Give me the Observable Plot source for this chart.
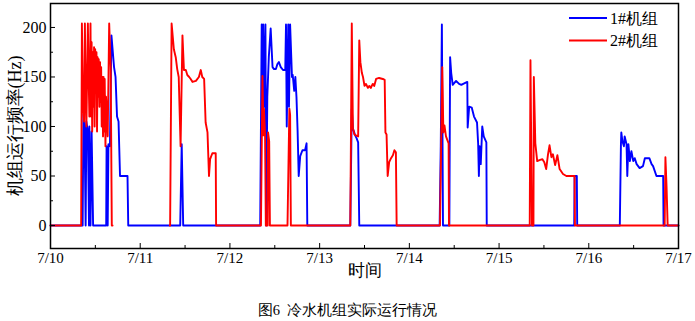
<!DOCTYPE html>
<html>
<head>
<meta charset="utf-8">
<script src="https://cdn.jsdelivr.net/npm/d3@7"></script>
<script src="https://cdn.jsdelivr.net/npm/@observablehq/plot@0.6"></script>
<style>
  html, body { margin: 0; padding: 0; background: #fff; }
  #wrap { width: 695px; height: 321px; position: relative; }
  #caption { width: 695px; text-align: center; font-family: "Liberation Serif", "Times New Roman", serif; font-size: 14.5px; line-height: 21px; color: #000; white-space: pre; }
  #chart svg text { font-family: "Liberation Serif", "Times New Roman", serif; }
</style>
</head>
<body>
<div id="wrap"><div id="chart"></div><div id="caption"></div></div>
<script>
// ---- data (hours since 7/10 00:00, frequency Hz) ----
const seriesNames = ["1#机组", "2#机组"];
const seriesColors = ["#0000ff", "#ff0000"];
const dayLabels = ["7/10", "7/11", "7/12", "7/13", "7/14", "7/15", "7/16", "7/17"];
const yTickValues = [0, 50, 100, 150, 200];
const yMinorValues = [25, 75, 125, 175];
const yTitle = "机组运行频率(Hz)";
const xTitle = "时间";
const captionText = "图6  冷水机组实际运行情况";

const unit1Hours = [0, 8.6, 8.8, 9.1, 9.4, 9.6, 10.0, 10.3, 10.4, 10.7, 11.0, 11.4, 14.9, 15.0, 15.3, 15.5, 15.9, 16.3, 17.0, 17.4, 17.8, 18.2, 18.6, 20.6, 20.8,
  34.7, 35.1, 35.5,
  56.1, 56.5, 56.7, 56.9, 57.2, 57.5, 57.7, 58.0, 58.4, 58.9, 59.4, 59.8, 60.3, 60.7, 61.1, 61.6, 62.2, 62.8, 63.0, 63.2, 63.6, 63.8, 64.1, 64.6, 64.8, 65.2, 65.5, 65.8, 66.1, 66.4, 66.8, 67.4, 68.1, 68.5, 68.7,
  80.2, 80.6, 80.9, 81.5, 81.9, 82.3, 82.6,
  104.1, 104.4, 104.7, 105.0, 106.7, 106.9, 107.2, 107.6, 108.5, 109.3, 109.9, 110.4, 111.5, 111.6, 112.0, 112.7, 113.3, 114.1, 114.4, 114.6, 114.8, 115.1, 115.5, 115.9, 116.6, 116.7,
  140.1, 140.2, 140.8, 140.9,
  152.3, 152.6, 152.7, 153.0, 153.4, 153.6, 154.1, 154.3, 154.6, 155.0, 155.4, 155.9, 156.3, 156.8, 157.6, 158.5, 159.0, 160.2, 160.8, 161.2, 162.1, 163.9, 164.0, 168];
const unit1Freq = [0, 0, 112, 100, 0, 105, 95, 0, 100, 0, 95, 0, 0, 80, 0, 82, 80, 192, 160, 150, 110, 105, 50, 50, 0,
  0, 82, 0,
  0, 203, 100, 203, 120, 203, 0, 130, 170, 199, 160, 158, 158, 163, 165, 160, 157, 157, 203, 100, 203, 120, 203, 150, 152, 136, 150, 130, 96, 50, 70, 76, 76, 83, 0,
  0, 118, 98, 91, 88, 84, 0,
  0, 80, 203, 0, 0, 170, 154, 142, 146, 143, 142, 143, 145, 99, 120, 119, 110, 104, 83, 50, 80, 62, 100, 90, 84, 0,
  0, 50, 50, 0,
  0, 82, 94, 85, 80, 90, 82, 50, 82, 65, 75, 65, 68, 62, 58, 60, 68, 68, 62, 60, 50, 50, 0, 0];

const unit2Hours = [0, 8.2, 8.4, 8.7, 9.0, 9.2, 9.4, 9.6, 10.0, 10.2, 10.4, 10.7, 10.85, 11.0, 11.15, 11.3, 11.5, 11.65, 11.8, 11.95, 12.1, 12.3, 12.45, 12.6, 12.75, 12.9, 13.1, 13.25, 13.4, 13.55, 13.7, 13.9, 14.05, 14.2, 14.35, 14.5, 14.7, 14.85, 15.0, 15.3, 15.7, 16.1, 16.4, 16.6,
  24,
  31.9, 32.0, 32.4, 33.0, 33.5, 33.9, 34.3, 34.8, 35.3, 35.7, 36.2, 36.6, 37.1, 37.5, 38.0, 38.9, 39.7, 40.2, 40.6, 41.1, 41.5, 42.0, 42.4, 42.7, 43.3, 44.2, 44.3,
  56.3, 56.7, 57.0, 57.1, 57.4, 57.6, 58.1, 58.2, 58.5, 58.7,
  63.4, 63.9, 64.1, 64.3,
  80.2, 80.6, 80.9, 81.3, 81.7, 82.3, 82.6, 82.9, 83.3, 83.6, 84.0, 84.4, 84.9, 85.3, 85.7, 86.2, 86.6, 87.1, 87.9, 88.9, 89.4, 89.6, 89.9, 90.2, 90.6, 91.1, 91.6, 92.0, 92.4, 92.6,
  104.2, 104.8, 105.1, 105.4, 105.8, 106.5, 106.6,
  128.2, 128.4, 128.8, 129.2, 129.3, 129.7, 130.2, 130.8, 131.6, 132.1, 132.6, 133.1, 133.5, 134.0, 134.4, 135.0, 135.6, 136.2, 137.1, 138.0, 140.2, 140.3,
  164.3, 164.5, 164.8, 165.1, 168];
const unit2Freq = [0, 0, 204, 120, 105, 204, 140, 100, 204, 150, 110, 204, 110, 185, 95, 175, 120, 180, 100, 178, 160, 175, 95, 170, 130, 168, 120, 165, 125, 160, 100, 150, 90, 150, 95, 148, 80, 130, 120, 90, 204, 160, 0, 0,
  null,
  0, 0, 204, 178, 170, 158, 150, 80, 192, 157, 157, 152, 150, 148, 145, 146, 150, 157, 150, 148, 104, 94, 50, 67, 73, 73, 0,
  0, 151, 91, 118, 91, 0, 0, 94, 85, 0,
  0, 118, 112, 0,
  0, 204, 98, 92, 91, 90, 187, 165, 154, 150, 141, 143, 139, 141, 139, 143, 141, 148, 149, 148, 147, 94, 92, 50, 64, 68, 71, 76, 74, 0,
  0, 160, 94, 101, 90, 83, 0,
  0, 167, 0, 0, 150, 83, 65, 66, 67, 64, 57, 72, 81, 69, 72, 61, 71, 57, 52, 50, 50, 0,
  0, 69, 40, 0, 0];

// ---- build ----
const base = Date.UTC(2019, 6, 10);
const toDate = h => new Date(base + h * 3600e3);
const unit1 = unit1Hours.map((h, i) => ({t: toDate(h), v: unit1Freq[i]}));
const unit2 = unit2Hours.map((h, i) => ({t: toDate(h), v: unit2Freq[i]}));
const dayTicks = dayLabels.map((_, i) => toDate(24 * i));
const halfTicks = dayLabels.slice(0, -1).map((_, i) => toDate(24 * i + 12));
const labelOf = new Map(dayTicks.map((d, i) => [+d, dayLabels[i]]));

const W = 695, H = 300;
const serif = "Liberation Serif, Times New Roman, serif";

const chart = Plot.plot({
  width: W,
  height: H,
  marginLeft: 50,
  marginRight: 17,
  marginTop: 3,
  marginBottom: 52,
  style: {fontFamily: serif, fontSize: "15px", color: "#000", background: "#fff", overflow: "visible"},
  x: {type: "utc", domain: [dayTicks[0], dayTicks[dayTicks.length - 1]], axis: null},
  y: {domain: [-23.2, 224.2], axis: null},
  marks: [
    Plot.line(unit1, {x: "t", y: "v", stroke: seriesColors[0], strokeWidth: 1.9, curve: "linear"}),
    Plot.line(unit2, {x: "t", y: "v", stroke: seriesColors[1], strokeWidth: 1.9, curve: "linear"}),
    Plot.axisX(dayTicks, {anchor: "bottom", label: null, tickSize: -5, tickFormat: () => "", stroke: "#000"}),
    Plot.axisX(halfTicks, {anchor: "bottom", label: null, tickSize: -3, tickFormat: () => "", stroke: "#000"}),
    Plot.axisX(dayTicks, {anchor: "bottom", label: null, tickSize: 0, tickPadding: 4, tickFormat: d => labelOf.get(+d), fontSize: 15, fill: "#000"}),
    Plot.axisY(yTickValues, {anchor: "left", label: null, tickSize: -5, tickFormat: () => "", stroke: "#000"}),
    Plot.axisY(yMinorValues, {anchor: "left", label: null, tickSize: -3, tickFormat: () => "", stroke: "#000"}),
    Plot.axisY(yTickValues, {anchor: "left", label: null, tickSize: 0, tickPadding: 4, tickFormat: d => String(d), fontSize: 16, fill: "#000"}),
    Plot.text([yTitle], {frameAnchor: "left", textAnchor: "middle", rotate: -90, dx: -35, fontSize: 18, fill: "#000"}),
    Plot.text([xTitle], {frameAnchor: "bottom", dy: 27, fontSize: 17, fill: "#000"}),
    Plot.frame({stroke: "#000", strokeWidth: 1.5})
  ]
});
document.getElementById("chart").appendChild(chart);
document.getElementById("caption").textContent = captionText;

// legend (top-right, inside the frame)
const svg = d3.select(chart);
const right = W - 17;
const lg = svg.append("g").attr("font-size", 16).attr("text-anchor", "start");
seriesNames.forEach((name, i) => {
  const y = 18 + i * 22.5;
  lg.append("line").attr("x1", right - 109).attr("x2", right - 71).attr("y1", y).attr("y2", y)
    .attr("stroke", seriesColors[i]).attr("stroke-width", 1.9);
  lg.append("text").attr("x", right - 68).attr("y", y).attr("dy", "0.35em").attr("fill", "#000").text(name);
});
</script>
</body>
</html>
